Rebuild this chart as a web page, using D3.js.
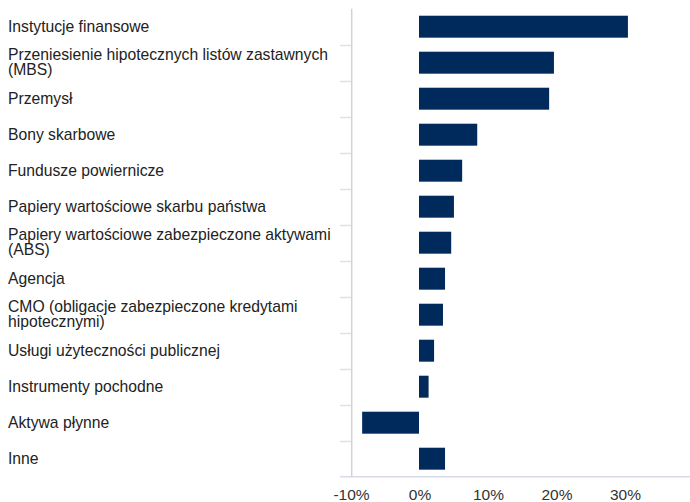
<!DOCTYPE html>
<html>
<head>
<meta charset="utf-8">
<script src="https://cdn.jsdelivr.net/npm/d3@7/dist/d3.min.js"></script>
<style>
  html, body { margin: 0; padding: 0; background: #fff; }
  svg { display: block; font-family: "Liberation Sans", Arial, sans-serif; }
</style>
</head>
<body>
<svg id="chart" width="690" height="502"></svg>
<script>
const categories = [
  ["Instytucje finansowe"],
  ["Przeniesienie hipotecznych listów zastawnych", "(MBS)"],
  ["Przemysł"],
  ["Bony skarbowe"],
  ["Fundusze powiernicze"],
  ["Papiery wartościowe skarbu państwa"],
  ["Papiery wartościowe zabezpieczone aktywami", "(ABS)"],
  ["Agencja"],
  ["CMO (obligacje zabezpieczone kredytami", "hipotecznymi)"],
  ["Usługi użyteczności publicznej"],
  ["Instrumenty pochodne"],
  ["Aktywa płynne"],
  ["Inne"]
];
const values = [30.5, 19.7, 19.0, 8.5, 6.3, 5.1, 4.7, 3.8, 3.5, 2.2, 1.4, -8.3, 3.8];
const tickValues = [-10, 0, 10, 20, 30];
const tickLabels = ["-10%", "0%", "10%", "20%", "30%"];

const svg = d3.select("#chart");
const plotLeft = 350.5, plotRight = 693, plotTop = 8.7, plotBottom = 476.7;
const axisX = 351.7;

const x = d3.scaleLinear().domain([-10, 40]).range([plotLeft, plotRight]);
const y = d3.scaleBand().domain(d3.range(categories.length)).range([plotTop, plotBottom]).paddingInner(0.39).paddingOuter(0.195);
const yb = d3.scaleBand().domain(d3.range(categories.length)).range([plotTop, plotBottom]);

// category separator ticks
svg.append("g").selectAll("line")
  .data(d3.range(1, categories.length))
  .join("line")
  .attr("x1", 340).attr("x2", axisX)
  .attr("y1", d => Math.round(yb(d)) + 0.5).attr("y2", d => Math.round(yb(d)) + 0.5)
  .attr("stroke", "#d9e0ef").attr("stroke-width", 1.5);

// bottom axis line
svg.append("line")
  .attr("x1", 340).attr("x2", 690)
  .attr("y1", plotBottom).attr("y2", plotBottom)
  .attr("stroke", "#d6dbe6").attr("stroke-width", 1.5);

// vertical axis line
svg.append("line")
  .attr("x1", axisX).attr("x2", axisX)
  .attr("y1", plotTop).attr("y2", plotBottom)
  .attr("stroke", "#d3d3d3").attr("stroke-width", 1.5);

// bars
svg.append("g").selectAll("rect")
  .data(values)
  .join("rect")
  .attr("x", d => x(Math.min(0, d)))
  .attr("width", d => Math.abs(x(d) - x(0)))
  .attr("y", (d, i) => y(i))
  .attr("height", y.bandwidth())
  .attr("fill", "#012a5c");

// category labels
const lab = svg.append("g").selectAll("text")
  .data(categories)
  .join("text")
  .attr("x", 8)
  .attr("fill", "#222")
  .attr("font-size", 15.7);
lab.each(function(lines, i) {
  const c = yb(i) + yb.bandwidth() / 2 - 0.5;
  const n = lines.length;
  const lh = 15.4;
  d3.select(this).selectAll("tspan")
    .data(lines)
    .join("tspan")
    .attr("x", 8)
    .attr("y", (l, j) => c + (j - (n - 1) / 2) * lh)
    .attr("dy", "0.35em")
    .text(l => l);
});

// x tick labels
svg.append("g").selectAll("text")
  .data(tickValues)
  .join("text")
  .attr("x", d => x(d) + 1)
  .attr("y", 499.5)
  .attr("text-anchor", "middle")
  .attr("fill", "#333")
  .attr("font-size", 15.5)
  .text((d, i) => tickLabels[i]);
</script>
</body>
</html>
